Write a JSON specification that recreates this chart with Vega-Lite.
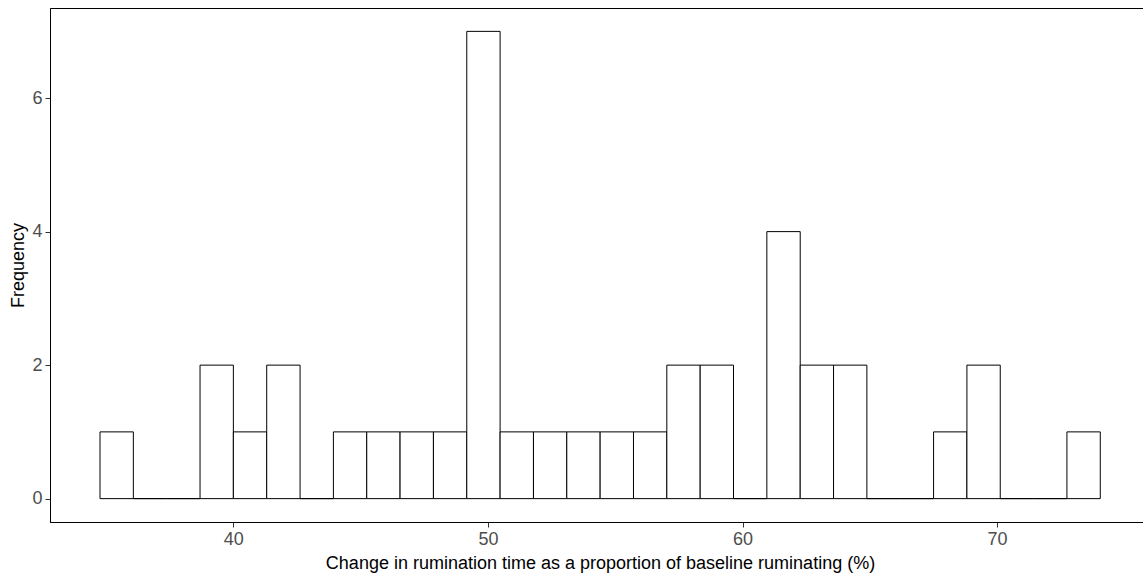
{
  "$schema": "https://vega.github.io/schema/vega-lite/v6.json",
  "autosize": {"type": "none"},
  "padding": {"left": 50, "top": 8, "right": 0, "bottom": 55},
  "width": 1093,
  "height": 514,
  "background": "white",
  "config": {
    "view": {"stroke": "black", "strokeWidth": 1},
    "font": "Liberation Sans"
  },
  "data": {
    "values": [
      {"bin_start": 34.764, "bin_end": 36.074, "count": 1},
      {"bin_start": 36.074, "bin_end": 37.383, "count": 0},
      {"bin_start": 37.383, "bin_end": 38.693, "count": 0},
      {"bin_start": 38.693, "bin_end": 40.002, "count": 2},
      {"bin_start": 40.002, "bin_end": 41.312, "count": 1},
      {"bin_start": 41.312, "bin_end": 42.622, "count": 2},
      {"bin_start": 42.622, "bin_end": 43.931, "count": 0},
      {"bin_start": 43.931, "bin_end": 45.241, "count": 1},
      {"bin_start": 45.241, "bin_end": 46.550, "count": 1},
      {"bin_start": 46.550, "bin_end": 47.860, "count": 1},
      {"bin_start": 47.860, "bin_end": 49.170, "count": 1},
      {"bin_start": 49.170, "bin_end": 50.479, "count": 7},
      {"bin_start": 50.479, "bin_end": 51.789, "count": 1},
      {"bin_start": 51.789, "bin_end": 53.098, "count": 1},
      {"bin_start": 53.098, "bin_end": 54.408, "count": 1},
      {"bin_start": 54.408, "bin_end": 55.718, "count": 1},
      {"bin_start": 55.718, "bin_end": 57.027, "count": 1},
      {"bin_start": 57.027, "bin_end": 58.337, "count": 2},
      {"bin_start": 58.337, "bin_end": 59.646, "count": 2},
      {"bin_start": 59.646, "bin_end": 60.956, "count": 0},
      {"bin_start": 60.956, "bin_end": 62.266, "count": 4},
      {"bin_start": 62.266, "bin_end": 63.575, "count": 2},
      {"bin_start": 63.575, "bin_end": 64.885, "count": 2},
      {"bin_start": 64.885, "bin_end": 66.194, "count": 0},
      {"bin_start": 66.194, "bin_end": 67.504, "count": 0},
      {"bin_start": 67.504, "bin_end": 68.814, "count": 1},
      {"bin_start": 68.814, "bin_end": 70.123, "count": 2},
      {"bin_start": 70.123, "bin_end": 71.433, "count": 0},
      {"bin_start": 71.433, "bin_end": 72.742, "count": 0},
      {"bin_start": 72.742, "bin_end": 74.052, "count": 1}
    ]
  },
  "mark": {"type": "rect", "fill": "white", "stroke": "black", "strokeWidth": 1},
  "encoding": {
    "x": {
      "field": "bin_start",
      "type": "quantitative",
      "scale": {"domain": [32.80, 75.73], "nice": false, "zero": false},
      "axis": {
        "title": "Change in rumination time as a proportion of baseline ruminating (%)",
        "values": [40, 50, 60, 70],
        "grid": false,
        "domainColor": "black",
        "domainWidth": 1,
        "tickColor": "#333333",
        "tickSize": 5,
        "labelColor": "#4D4D4D",
        "labelFontSize": 18,
        "labelFont": "Liberation Sans",
        "labelPadding": 3,
        "titleFont": "Liberation Sans",
        "titleFontSize": 18,
        "titleFontWeight": "normal",
        "titleColor": "black",
        "titlePadding": 6,
        "titleAnchor": "start",
        "titleAlign": "center",
        "titleX": 550
      }
    },
    "x2": {"field": "bin_end"},
    "y": {
      "field": "count",
      "type": "quantitative",
      "scale": {"domain": [-0.35, 7.35], "nice": false, "zero": false},
      "axis": {
        "title": "Frequency",
        "values": [0, 2, 4, 6],
        "grid": false,
        "domainColor": "black",
        "domainWidth": 1,
        "tickColor": "#333333",
        "tickSize": 5,
        "labelColor": "#4D4D4D",
        "labelFontSize": 18,
        "labelFont": "Liberation Sans",
        "labelPadding": 3,
        "titleFont": "Liberation Sans",
        "titleFontSize": 18,
        "titleFontWeight": "normal",
        "titleColor": "black",
        "titlePadding": 4
      }
    },
    "y2": {"datum": 0}
  }
}
